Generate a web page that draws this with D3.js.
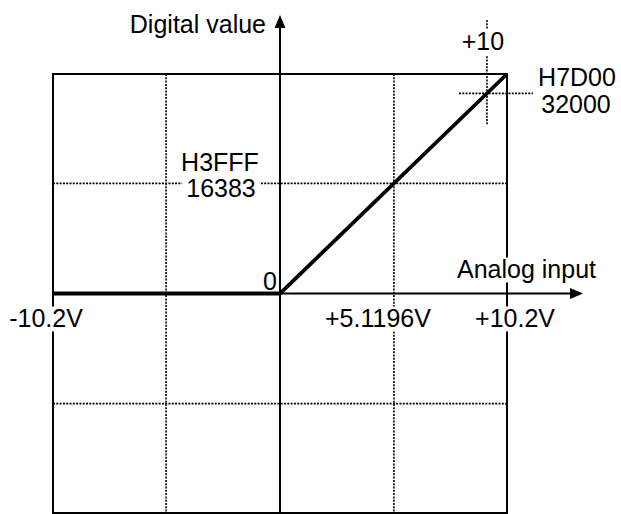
<!DOCTYPE html>
<html>
<head>
<meta charset="utf-8">
<script src="https://cdn.jsdelivr.net/npm/d3@7/dist/d3.min.js"></script>
<style>
  html, body { margin: 0; padding: 0; background: #fff; }
  svg { display: block; font-family: Arial, "Liberation Sans", sans-serif; }
</style>
</head>
<body>
<div id="chart"></div>
<script>
// A/D conversion characteristic: analog input (V) -> digital value
var INPUT_RANGE = [-10.2, 10.2];
var CODE_RANGE = [-32640, 32640];

// characteristic curve: clamps to 0 below 0 V, linear up to full scale
var CURVE_V = [-10.2, 0, 10.2];
var CURVE_CODE = [0, 0, 32640];

// dotted grid
var GRID_V = [-5.1196, 5.1196];
var GRID_CODE = [16383, -16383];

// x tick labels
var X_LABEL_V = [-10.2, 5.1196, 10.2];
var X_LABELS = ["-10.2V", "+5.1196V", "+10.2V"];

// +10 V marker (drawn position) and its labels
var MARK_V = 9.3;
var MARK_CODE = 29760;
var MARK_LABELS = ["+10", "H7D00", "32000"];
var MID_LABELS = ["H3FFF", "16383"];

(function () {
  "use strict";

  var width = 621, height = 514;
  var FONT = 25;

  var svg = d3.select("#chart").append("svg")
    .attr("width", width)
    .attr("height", height);

  var x = d3.scaleLinear().domain(INPUT_RANGE).range([53, 507]);
  var y = d3.scaleLinear().domain(CODE_RANGE).range([513, 74]);

  var x0 = x(0), y0 = y(0);

  // grid
  var grid = svg.append("g")
    .attr("stroke", "#000")
    .attr("stroke-width", 1.6)
    .attr("stroke-dasharray", "2,1.3")
    .attr("fill", "none");

  grid.selectAll("line.gv").data(GRID_V).enter().append("line")
    .attr("x1", function (d) { return x(d); })
    .attr("x2", function (d) { return x(d); })
    .attr("y1", y.range()[1]).attr("y2", y.range()[0]);

  grid.selectAll("line.gh").data(GRID_CODE).enter().append("line")
    .attr("y1", function (d) { return y(d); })
    .attr("y2", function (d) { return y(d); })
    .attr("x1", x.range()[0]).attr("x2", x.range()[1]);

  // +10 crosshair
  grid.append("line")
    .attr("x1", x(MARK_V)).attr("x2", x(MARK_V))
    .attr("y1", 20).attr("y2", y(MARK_CODE) + 31);
  grid.append("line")
    .attr("x1", x(MARK_V) - 28).attr("x2", x(MARK_V) + 46)
    .attr("y1", y(MARK_CODE)).attr("y2", y(MARK_CODE));

  // frame
  svg.append("rect")
    .attr("x", x.range()[0]).attr("y", y.range()[1])
    .attr("width", x.range()[1] - x.range()[0])
    .attr("height", y.range()[0] - y.range()[1])
    .attr("fill", "none")
    .attr("stroke", "#000")
    .attr("stroke-width", 2);

  // axes with arrows
  svg.append("line")
    .attr("x1", x0).attr("x2", x0)
    .attr("y1", y.range()[0]).attr("y2", 24)
    .attr("stroke", "#000").attr("stroke-width", 2);
  svg.append("path")
    .attr("d", "M" + x0 + ",15 L" + (x0 - 5.5) + ",28 L" + (x0 + 5.5) + ",28 Z")
    .attr("fill", "#000");

  svg.append("line")
    .attr("x1", x.range()[0]).attr("x2", 574)
    .attr("y1", y0).attr("y2", y0)
    .attr("stroke", "#000").attr("stroke-width", 2);
  svg.append("path")
    .attr("d", "M583," + y0 + " L570," + (y0 - 5.5) + " L570," + (y0 + 5.5) + " Z")
    .attr("fill", "#000");

  // characteristic
  var line = d3.line()
    .x(function (d) { return x(d[0]); })
    .y(function (d) { return y(d[1]); });

  svg.append("path")
    .datum(d3.zip(CURVE_V, CURVE_CODE))
    .attr("d", line)
    .attr("fill", "none")
    .attr("stroke", "#000")
    .attr("stroke-width", 3.8)
    .attr("stroke-linejoin", "miter");

  // labels with white backing so they cut through the lines
  var labels = svg.append("g").attr("font-size", FONT).attr("fill", "#000");

  function label(txt, lx, ly, anchor, pad) {
    var g = labels.append("g");
    var t = g.append("text")
      .attr("x", lx).attr("y", ly)
      .attr("text-anchor", anchor)
      .text(txt);
    if (pad != null) {
      var b = t.node().getBBox();
      g.insert("rect", "text")
        .attr("x", b.x - pad).attr("y", b.y + 3)
        .attr("width", b.width + 2 * pad).attr("height", b.height - 3)
        .attr("fill", "#fff");
    }
    return t;
  }

  var xOffsets = [-7, -16, 8];
  X_LABELS.forEach(function (s, i) {
    label(s, x(X_LABEL_V[i]) + xOffsets[i], y0 + 33, "middle", 2);
  });

  label("0", x0 - 3, y0 - 4, "end", null);
  label("Analog input", 596, y0 - 16, "end", 2);
  label("Digital value", x0 - 14, 33, "end", null);

  label(MID_LABELS[0], 220, y(GRID_CODE[0]) - 12, "middle", 4);
  label(MID_LABELS[1], 221, y(GRID_CODE[0]) + 14, "middle", 4);

  label(MARK_LABELS[0], x(MARK_V) - 4, 50, "middle", 2);
  label(MARK_LABELS[1], 577, 86, "middle", null);
  label(MARK_LABELS[2], 576, 113, "middle", null);
})();
</script>
</body>
</html>
